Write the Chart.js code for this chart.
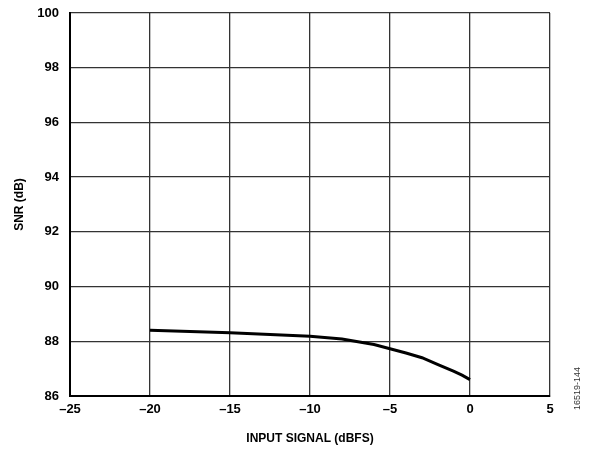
<!DOCTYPE html>
<html>
<head>
<meta charset="utf-8">
<script src="https://cdn.jsdelivr.net/npm/chart.js@4"></script>
<style>
  html, body { margin: 0; padding: 0; background: #fff; }
  #wrap { width: 593px; height: 450px; position: relative; }
</style>
</head>
<body>
<div id="wrap"><canvas id="snr-chart" width="593" height="450"></canvas></div>
<script>
const inputSignal = [-20, -15, -10, -8, -6, -5, -4, -3, -2, -1, -0.5, 0];
const snrValues = [88.40, 88.31, 88.18, 88.08, 87.88, 87.73, 87.57, 87.40, 87.15, 86.90, 86.76, 86.60];
const xTicks = [-25, -20, -15, -10, -5, 0, 5];
const yTicks = [86, 88, 90, 92, 94, 96, 98, 100];

const FONT = "'Liberation Sans', Arial, sans-serif";
const minus = v => String(v).replace('-', '\u2013');

const figureId = {
  id: 'figureId',
  afterDraw(chart) {
    const ctx = chart.ctx;
    ctx.save();
    ctx.translate(578, 410);
    ctx.rotate(-Math.PI / 2);
    ctx.font = "9px " + FONT;
    ctx.fillStyle = '#333';
    ctx.textAlign = 'left';
    ctx.textBaseline = 'middle';
    ctx.fillText('16519-144', 0, 0);
    ctx.restore();
  }
};

new Chart(document.getElementById('snr-chart'), {
  type: 'line',
  data: {
    datasets: [{
      data: inputSignal.map((x, i) => ({ x, y: snrValues[i] })),
      borderColor: '#000',
      borderWidth: 3,
      pointRadius: 0,
      tension: 0,
      fill: false
    }]
  },
  options: {
    responsive: false,
    animation: false,
    layout: { padding: { left: 0, top: 13, right: 43, bottom: 0 } },
    plugins: { legend: { display: false }, tooltip: { enabled: false } },
    scales: {
      x: {
        type: 'linear',
        min: -25, max: 5,
        afterBuildTicks: s => { s.ticks = xTicks.map(v => ({ value: v })); },
        afterFit: s => { s.height = 54; s.paddingLeft = 0; s.paddingRight = 0; },
        grid: { color: '#333', lineWidth: 1.3, drawTicks: false },
        border: { color: '#000', width: 2 },
        ticks: {
          padding: 6,
          color: '#000',
          font: { family: FONT, size: 13, weight: 'bold' },
          callback: v => minus(v)
        },
        title: {
          display: true,
          text: 'INPUT SIGNAL (dBFS)',
          color: '#000',
          font: { family: FONT, size: 12, weight: 'bold' },
          padding: { top: 9 }
        }
      },
      y: {
        min: 86, max: 100,
        afterBuildTicks: s => { s.ticks = yTicks.map(v => ({ value: v })); },
        afterFit: s => { s.width = 70; s.paddingTop = 0; s.paddingBottom = 0; },
        grid: { color: '#333', lineWidth: 1.3, drawTicks: false },
        border: { color: '#000', width: 2 },
        ticks: {
          padding: 11,
          color: '#000',
          font: { family: FONT, size: 13, weight: 'bold' }
        },
        title: {
          display: true,
          text: 'SNR (dB)',
          color: '#000',
          font: { family: FONT, size: 12, weight: 'bold' },
          padding: { top: 12, bottom: 4 }
        }
      }
    }
  },
  plugins: [figureId]
});
</script>
</body>
</html>
